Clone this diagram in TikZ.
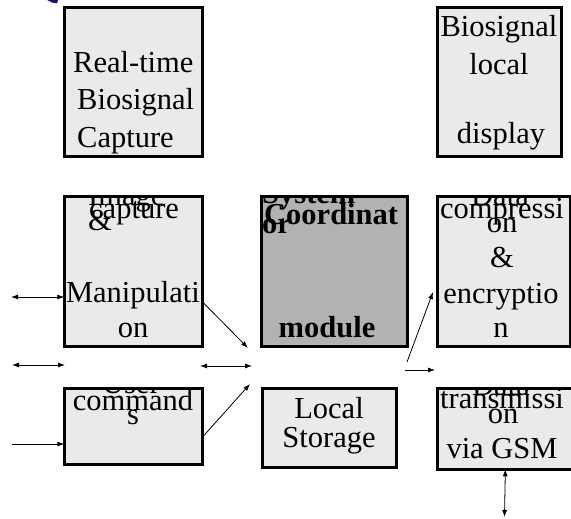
\documentclass[tikz,border=0pt]{standalone}
\usepackage{fontspec}
\setmainfont{Liberation Serif}
\usepackage{tikz}
\usetikzlibrary{arrows.meta, calc}
\usepackage{xcolor}
\definecolor{boxlight}{HTML}{EAEAEA}
\definecolor{boxdark}{HTML}{B2B2B2}
\definecolor{markblue}{HTML}{14147A}

\tikzset{
  blk/.style={draw, line width=3pt, fill=boxlight, inner sep=0pt, outer sep=0pt, anchor=north west},
  txt/.style={inner sep=0pt, font=\fontsize{30.5}{36}\selectfont},
  lnk/.style={black, line width=0.8pt, >={Latex[length=7pt, width=5pt]}}
}

\begin{document}
\begin{tikzpicture}[x=1pt, y=-1pt]
  \useasboundingbox (0,0) rectangle (571,519);
  \fill[markblue] (47,0) -- (58,0) -- (57,3.5) -- (52,2.5) -- cycle;

  \node[blk, minimum width=138pt, minimum height=148.6pt] (cap) at (64.3,7.7) {};
  \node[blk, minimum width=123.3pt, minimum height=148.6pt] (disp) at (437.7,7.7) {};
  \node[blk, minimum width=138pt, minimum height=150pt] (img) at (64.3,196.7) {};
  \node[blk, fill=boxdark, minimum width=146pt, minimum height=150pt] (sys) at (261.7,196.7) {};
  \node[blk, minimum width=132.3pt, minimum height=150pt] (comp) at (437.7,196.7) {};
  \node[blk, minimum width=138pt, minimum height=76pt] (user) at (64.3,388.3) {};
  \node[blk, minimum width=134.4pt, minimum height=79.4pt] (store) at (262.3,388.3) {};
  \node[blk, minimum width=135.3pt, minimum height=81pt] (gsm) at (437.7,388.3) {};

  \node[txt, anchor=base west] (cap1) at (73,73) {Real-time};
  \node[txt, anchor=base west] (cap2) at (77,110) {Biosignal};
  \node[txt, anchor=base west] (cap3) at (77,147) {Capture};

  \node[txt, anchor=base] (disp1) at (499,37) {Biosignal};
  \node[txt, anchor=base] (disp2) at (499,75) {local};
  \node[txt, anchor=base] (disp3) at (501,143) {display};

  \begin{scope}
    \clip (img.north west) rectangle (img.south east);
    \node[txt, anchor=base west] (img1) at (88,205) {Image};
    \node[txt, anchor=base west] (img2) at (89,218) {capture};
    \node[txt, anchor=base west] (img3) at (88,230) {\&};
    \node[txt, anchor=base] (img4) at (133,302) {Manipulati};
    \node[txt, anchor=base] (img5) at (133,337) {on};
  \end{scope}

  \begin{scope}
    \clip (sys.north west) rectangle (sys.south east);
    \node[txt, font=\fontsize{30.5}{36}\selectfont\bfseries, anchor=base west] (sys1) at (262,203) {System};
    \node[txt, font=\fontsize{30.5}{36}\selectfont\bfseries, anchor=base west] (sys2) at (264,224) {Coordinat};
    \node[txt, font=\fontsize{30.5}{36}\selectfont\bfseries, anchor=base west] (sys3) at (262,233) {or};
    \node[txt, font=\fontsize{30.5}{36}\selectfont\bfseries, anchor=base] (sys4) at (327,337) {module};
  \end{scope}

  \begin{scope}
    \clip (comp.north west) rectangle (comp.south east);
    \node[txt, anchor=base] (comp1) at (500,205) {Data};
    \node[txt, anchor=base] (comp2) at (502,218) {compressi};
    \node[txt, anchor=base] (comp3) at (502,232) {on};
    \node[txt, anchor=base] (comp4) at (502,267) {\&};
    \node[txt, anchor=base] (comp5) at (501,303) {encryptio};
    \node[txt, anchor=base] (comp6) at (501,337) {n};
  \end{scope}

  \begin{scope}
    \clip (user.north west) rectangle (user.south east);
    \node[txt, anchor=base] (user1) at (131,393) {User};
    \node[txt, anchor=base] (user2) at (133,410) {command};
    \node[txt, anchor=base] (user3) at (133,424) {s};
  \end{scope}

  \node[txt, anchor=base] (store1) at (329,418) {Local};
  \node[txt, anchor=base] (store2) at (329,447) {Storage};

  \begin{scope}
    \clip (gsm.north west) rectangle (gsm.south east);
    \node[txt, anchor=base] (gsm1) at (501,395) {Data};
    \node[txt, anchor=base] (gsm2) at (502,408) {transmissi};
    \node[txt, anchor=base] (gsm3) at (503,423) {on};
    \node[txt, anchor=base] (gsm4) at (502,458) {via GSM};
  \end{scope}

  \coordinate (m1) at (11,297);
  \coordinate (m2) at (12,365);
  \coordinate (m3) at (65,365);
  \coordinate (s1) at (200,366);
  \coordinate (s2) at (252,366);
  \coordinate (s3) at (248,348);
  \coordinate (s4) at (250,384);
  \coordinate (u1) at (12,444);
  \coordinate (c1) at (407,362);
  \coordinate (c2) at (433,292);
  \coordinate (c3) at (405,370);
  \coordinate (c4) at (435,370);
  \coordinate (g1) at (504.5,517);

  \draw[lnk, <->] (m1) -- (m1 -| img.west);
  \draw[lnk, <->] (m2) -- (m3);
  \draw[lnk, <->] (s1) -- (s2);
  \draw[lnk, ->] ([yshift=-30pt]img.east) -- (s3);
  \draw[lnk, ->] ([yshift=-11pt]user.east) -- (s4);
  \draw[lnk, ->] (u1) -- (u1 -| user.west);
  \draw[lnk, ->] (c1) -- (c2);
  \draw[lnk, ->] (c3) -- (c4);
  \draw[lnk, <->] (gsm.south) -- (g1);
\end{tikzpicture}
\end{document}
